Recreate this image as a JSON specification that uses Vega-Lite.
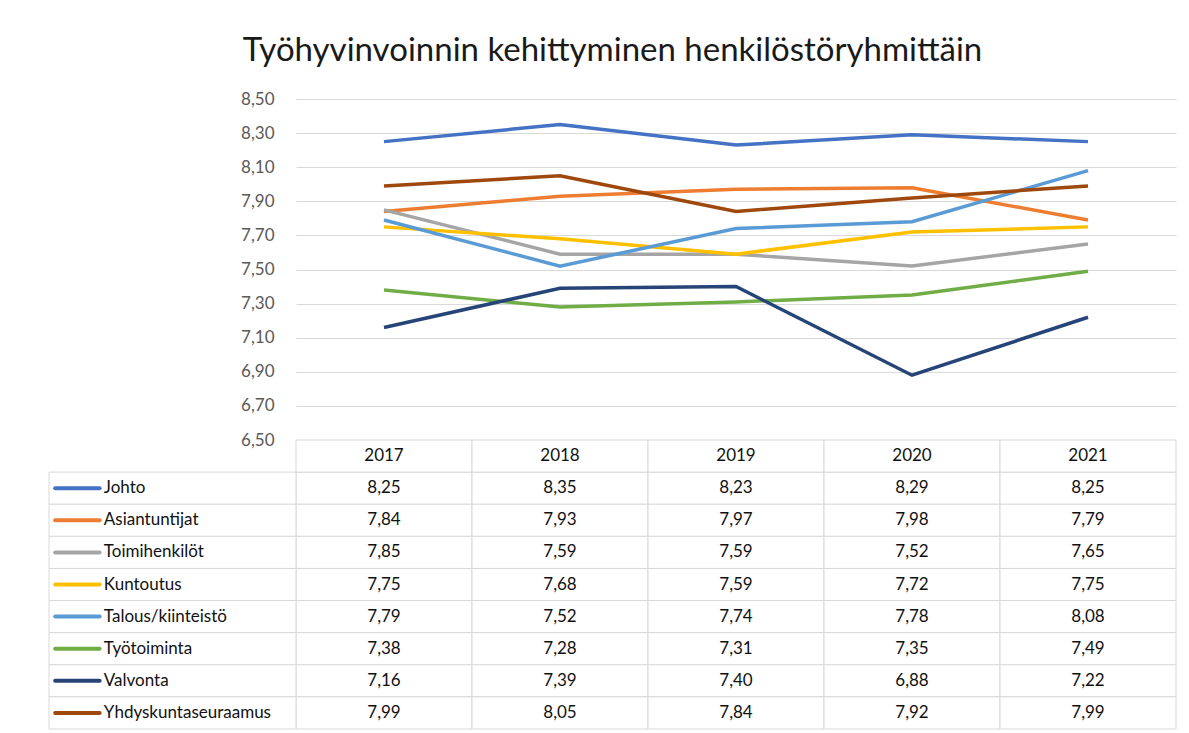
{
  "$schema": "https://vega.github.io/schema/vega-lite/v6.json",
  "padding": {"left": 48, "top": 35, "right": 10, "bottom": 2},
  "background": "white",
  "width": 880,
  "height": 630,
  "config": {
    "view": {"stroke": null},
    "font": "Lato",
    "locale": {"number": {"decimal": ",", "thousands": " ", "grouping": [3], "currency": ["", " €"]}}
  },
  "title": {"text": "Työhyvinvoinnin kehittyminen henkilöstöryhmittäin", "fontSize": 33, "font": "Lato", "fontWeight": "normal", "color": "#1a1a1a", "anchor": "middle", "frame": "bounds", "offset": 22},
  "datasets": {
    "d": [
      {"group": "Johto", "year": "2017", "value": 8.25},
      {"group": "Johto", "year": "2018", "value": 8.35},
      {"group": "Johto", "year": "2019", "value": 8.23},
      {"group": "Johto", "year": "2020", "value": 8.29},
      {"group": "Johto", "year": "2021", "value": 8.25},
      {"group": "Asiantuntijat", "year": "2017", "value": 7.84},
      {"group": "Asiantuntijat", "year": "2018", "value": 7.93},
      {"group": "Asiantuntijat", "year": "2019", "value": 7.97},
      {"group": "Asiantuntijat", "year": "2020", "value": 7.98},
      {"group": "Asiantuntijat", "year": "2021", "value": 7.79},
      {"group": "Toimihenkilöt", "year": "2017", "value": 7.85},
      {"group": "Toimihenkilöt", "year": "2018", "value": 7.59},
      {"group": "Toimihenkilöt", "year": "2019", "value": 7.59},
      {"group": "Toimihenkilöt", "year": "2020", "value": 7.52},
      {"group": "Toimihenkilöt", "year": "2021", "value": 7.65},
      {"group": "Kuntoutus", "year": "2017", "value": 7.75},
      {"group": "Kuntoutus", "year": "2018", "value": 7.68},
      {"group": "Kuntoutus", "year": "2019", "value": 7.59},
      {"group": "Kuntoutus", "year": "2020", "value": 7.72},
      {"group": "Kuntoutus", "year": "2021", "value": 7.75},
      {"group": "Talous/kiinteistö", "year": "2017", "value": 7.79},
      {"group": "Talous/kiinteistö", "year": "2018", "value": 7.52},
      {"group": "Talous/kiinteistö", "year": "2019", "value": 7.74},
      {"group": "Talous/kiinteistö", "year": "2020", "value": 7.78},
      {"group": "Talous/kiinteistö", "year": "2021", "value": 8.08},
      {"group": "Työtoiminta", "year": "2017", "value": 7.38},
      {"group": "Työtoiminta", "year": "2018", "value": 7.28},
      {"group": "Työtoiminta", "year": "2019", "value": 7.31},
      {"group": "Työtoiminta", "year": "2020", "value": 7.35},
      {"group": "Työtoiminta", "year": "2021", "value": 7.49},
      {"group": "Valvonta", "year": "2017", "value": 7.16},
      {"group": "Valvonta", "year": "2018", "value": 7.39},
      {"group": "Valvonta", "year": "2019", "value": 7.40},
      {"group": "Valvonta", "year": "2020", "value": 6.88},
      {"group": "Valvonta", "year": "2021", "value": 7.22},
      {"group": "Yhdyskuntaseuraamus", "year": "2017", "value": 7.99},
      {"group": "Yhdyskuntaseuraamus", "year": "2018", "value": 8.05},
      {"group": "Yhdyskuntaseuraamus", "year": "2019", "value": 7.84},
      {"group": "Yhdyskuntaseuraamus", "year": "2020", "value": 7.92},
      {"group": "Yhdyskuntaseuraamus", "year": "2021", "value": 7.99}
    ],
    "hdr": [
      {"row": "Vuosi", "year": "2017"},
      {"row": "Vuosi", "year": "2018"},
      {"row": "Vuosi", "year": "2019"},
      {"row": "Vuosi", "year": "2020"},
      {"row": "Vuosi", "year": "2021"}
    ],
    "groups": [
      {"group": "Johto"},
      {"group": "Asiantuntijat"},
      {"group": "Toimihenkilöt"},
      {"group": "Kuntoutus"},
      {"group": "Talous/kiinteistö"},
      {"group": "Työtoiminta"},
      {"group": "Valvonta"},
      {"group": "Yhdyskuntaseuraamus"}
    ]
  },
  "resolve": {"scale": {"x": "independent", "y": "independent"}, "axis": {"x": "independent", "y": "independent"}},
  "layer": [
    {
      "data": {"name": "d"},
      "mark": {"type": "line", "strokeWidth": 3.5},
      "encoding": {
        "x": {"field": "year", "type": "ordinal", "scale": {"type": "band", "paddingInner": 0, "paddingOuter": 0}, "axis": null},
        "y": {
          "field": "value", "type": "quantitative",
          "scale": {"domain": [6.5, 8.5], "range": [341, 0], "nice": false, "zero": false},
          "axis": {"values": [6.5, 6.7, 6.9, 7.1, 7.3, 7.5, 7.7, 7.9, 8.1, 8.3, 8.5], "format": ".2f", "grid": true, "gridColor": "#D9D9D9", "gridWidth": 1, "domain": false, "ticks": false, "labelPadding": 22, "labelFontSize": 17, "labelFont": "Lato", "labelColor": "#595959", "title": null}
        },
        "color": {
          "field": "group", "type": "nominal",
          "scale": {"domain": ["Johto", "Asiantuntijat", "Toimihenkilöt", "Kuntoutus", "Talous/kiinteistö", "Työtoiminta", "Valvonta", "Yhdyskuntaseuraamus"], "range": ["#4472C4", "#ED7D31", "#A5A5A5", "#FFC000", "#5B9BD5", "#70AD47", "#264478", "#9E480E"]},
          "legend": null
        }
      }
    },
    {
      "layer": [
        {
          "data": {"name": "d"},
          "mark": {"type": "rect", "fill": "white", "stroke": "#D9D9D9", "strokeWidth": 1},
          "encoding": {
            "x": {"field": "year", "type": "ordinal", "scale": {"type": "band", "paddingInner": 0, "paddingOuter": 0}, "axis": null},
            "y": {"field": "group", "type": "nominal", "scale": {"type": "band", "domain": ["Vuosi", "Johto", "Asiantuntijat", "Toimihenkilöt", "Kuntoutus", "Talous/kiinteistö", "Työtoiminta", "Valvonta", "Yhdyskuntaseuraamus"], "range": [341, 630], "paddingInner": 0, "paddingOuter": 0}, "axis": null}
          }
        },
        {
          "data": {"name": "hdr"},
          "mark": {"type": "rect", "fill": "white", "stroke": "#D9D9D9", "strokeWidth": 1},
          "encoding": {
            "x": {"field": "year", "type": "ordinal"},
            "y": {"field": "row", "type": "nominal"}
          }
        },
        {
          "data": {"name": "d"},
          "mark": {"type": "text", "align": "center", "baseline": "middle", "fontSize": 17, "font": "Lato", "color": "#111111"},
          "encoding": {
            "x": {"field": "year", "type": "ordinal"},
            "y": {"field": "group", "type": "nominal"},
            "text": {"field": "value", "type": "quantitative", "format": ".2f"}
          }
        },
        {
          "data": {"name": "hdr"},
          "mark": {"type": "text", "align": "center", "baseline": "middle", "fontSize": 17, "font": "Lato", "color": "#111111"},
          "encoding": {
            "x": {"field": "year", "type": "ordinal"},
            "y": {"field": "row", "type": "nominal"},
            "text": {"field": "year"}
          }
        }
      ]
    },
    {
      "data": {"name": "groups"},
      "layer": [
        {
          "mark": {"type": "rect", "fill": "white", "stroke": "#D9D9D9", "strokeWidth": 1},
          "encoding": {
            "x": {"datum": 0, "type": "quantitative", "scale": {"domain": [0, 1], "range": [-247, 0], "nice": false, "zero": false}, "axis": null},
            "x2": {"datum": 1},
            "y": {"field": "group", "type": "nominal", "scale": {"type": "band", "domain": ["Vuosi", "Johto", "Asiantuntijat", "Toimihenkilöt", "Kuntoutus", "Talous/kiinteistö", "Työtoiminta", "Valvonta", "Yhdyskuntaseuraamus"], "range": [341, 630], "paddingInner": 0, "paddingOuter": 0}, "axis": null}
          }
        },
        {
          "mark": {"type": "rule", "strokeWidth": 4, "strokeCap": "round"},
          "encoding": {
            "x": {"datum": 0.025, "type": "quantitative"},
            "x2": {"datum": 0.205},
            "y": {"field": "group", "type": "nominal"},
            "color": {"field": "group", "type": "nominal", "legend": null}
          }
        },
        {
          "mark": {"type": "text", "align": "left", "baseline": "middle", "fontSize": 17, "font": "Lato", "color": "#111111"},
          "encoding": {
            "x": {"datum": 0.222, "type": "quantitative"},
            "y": {"field": "group", "type": "nominal"},
            "text": {"field": "group"}
          }
        }
      ]
    }
  ]
}
